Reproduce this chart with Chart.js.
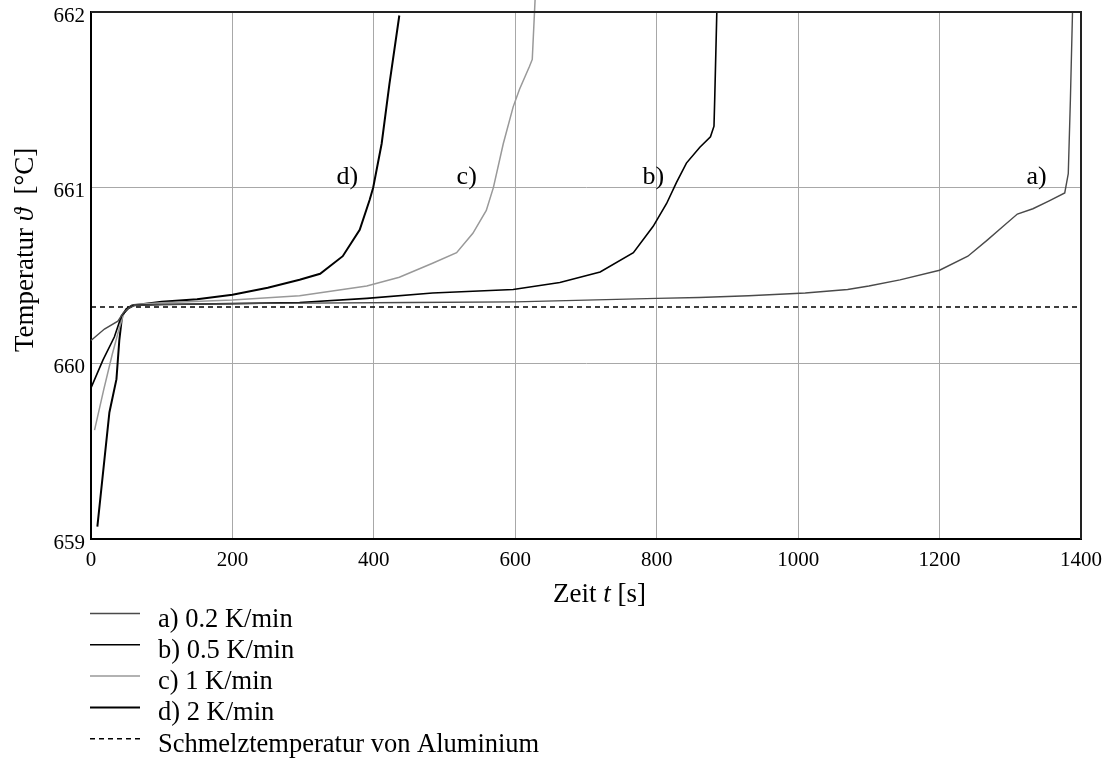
<!DOCTYPE html>
<html lang="de">
<head>
<meta charset="utf-8">
<title>Temperaturverlauf beim Schmelzen</title>
<script src="https://cdn.jsdelivr.net/npm/chart.js@4/dist/chart.umd.min.js"></script>
<style>
  body { margin: 0; background: #fff; }
</style>
</head>
<body>
<canvas id="tempChart" width="1119" height="760"></canvas>
<script>
// a) 0.2 K/min
var zeitA = [0, 19, 38, 46, 52, 62, 100, 200, 300, 450, 600, 700, 800, 860, 930, 1010, 1070, 1100, 1144, 1200, 1240, 1267, 1290, 1310, 1332, 1355, 1377, 1382, 1385, 1388];
var tempA = [660.13, 660.195, 660.24, 660.29, 660.31, 660.33, 660.335, 660.34, 660.343, 660.346, 660.35, 660.36, 660.37, 660.375, 660.385, 660.40, 660.42, 660.44, 660.475, 660.53, 660.61, 660.70, 660.78, 660.85, 660.88, 660.925, 660.97, 661.08, 661.5, 662.0];
// b) 0.5 K/min
var zeitB = [0, 17, 33, 43, 52, 60, 100, 200, 295, 390, 483, 597, 663, 720, 767, 795, 814, 828, 842, 861, 876, 881, 882, 885];
var tempB = [659.86, 660.02, 660.15, 660.27, 660.31, 660.33, 660.335, 660.34, 660.346, 660.37, 660.40, 660.42, 660.46, 660.52, 660.63, 660.78, 660.91, 661.03, 661.14, 661.23, 661.29, 661.35, 661.5, 662.0];
// c) 1 K/min
var zeitC = [5, 18, 30, 40, 47, 55, 62, 100, 200, 295, 390, 436, 483, 517, 540, 559, 569, 583, 597, 606, 620, 624, 628];
var tempC = [659.62, 659.85, 660.05, 660.2, 660.29, 660.32, 660.335, 660.345, 660.36, 660.385, 660.44, 660.49, 660.57, 660.63, 660.74, 660.87, 661.0, 661.25, 661.46, 661.56, 661.69, 661.73, 662.07];
// d) 2 K/min
var zeitD = [9, 26, 36, 40, 44, 50, 58, 100, 150, 200, 250, 295, 324, 356, 380, 394, 399, 411, 422, 436];
var tempD = [659.07, 659.72, 659.91, 660.13, 660.27, 660.31, 660.33, 660.35, 660.365, 660.39, 660.43, 660.476, 660.51, 660.61, 660.76, 660.93, 661.0, 661.25, 661.59, 661.98];

var schmelzTemp = 660.32;
var zeitBereich = [0, 1400];

var legendeTexte = ['a) 0.2 K/min', 'b) 0.5 K/min', 'c) 1 K/min', 'd) 2 K/min', 'Schmelztemperatur von Aluminium'];
var kurvenNamen = ['a)', 'b)', 'c)', 'd)'];
var kurvenZeit = [1323, 780, 517, 347];
var kurvenTemp = [661.02, 661.02, 661.02, 661.02];

var SERIF = '"Liberation Serif", "Times New Roman", serif';

function punkte(xs, ys) {
  return xs.map(function (x, i) { return { x: x, y: ys[i] }; });
}

function kurve(label, xs, ys, farbe, breite) {
  return {
    label: label,
    data: punkte(xs, ys),
    borderColor: farbe,
    borderWidth: breite,
    pointRadius: 0,
    tension: 0,
    fill: false,
    clip: false
  };
}

// Text mit kursiven Teilen nacheinander zeichnen
function mischText(ctx, teile, x, y, groesse) {
  var pos = x;
  teile.forEach(function (t) {
    ctx.font = (t.kursiv ? 'italic ' : '') + groesse + 'px ' + SERIF;
    ctx.fillText(t.text, pos, y);
    pos += ctx.measureText(t.text).width;
  });
}

var beschriftung = {
  id: 'beschriftung',
  afterDraw: function (chart) {
    var ctx = chart.ctx;
    var a = chart.chartArea;
    var sx = chart.scales.x, sy = chart.scales.y;
    ctx.save();

    // Rahmen oben und rechts
    ctx.strokeStyle = '#222';
    ctx.lineWidth = 2;
    ctx.beginPath();
    ctx.moveTo(a.left, a.top);
    ctx.lineTo(a.right, a.top);
    ctx.lineTo(a.right, a.bottom);
    ctx.stroke();

    ctx.fillStyle = '#000';
    ctx.textAlign = 'left';
    ctx.textBaseline = 'alphabetic';

    // Kurvenbezeichnungen
    ctx.font = '26px ' + SERIF;
    kurvenNamen.forEach(function (n, i) {
      ctx.fillText(n, sx.getPixelForValue(kurvenZeit[i]), sy.getPixelForValue(kurvenTemp[i]));
    });

    // Achsentitel
    mischText(ctx, [{ text: 'Zeit ' }, { text: 't', kursiv: true }, { text: ' [s]' }], 553, 602, 27);
    ctx.save();
    ctx.translate(33, 352);
    ctx.rotate(-Math.PI / 2);
    mischText(ctx, [{ text: 'Temperatur ' }, { text: 'ϑ', kursiv: true }, { text: '  [°C]' }], 0, 0, 27);
    ctx.restore();

    // Legende
    chart.data.datasets.forEach(function (ds, i) {
      var y = 613.5 + i * 31.3;
      ctx.beginPath();
      ctx.strokeStyle = ds.borderColor;
      ctx.lineWidth = ds.borderWidth;
      ctx.setLineDash(ds.borderDash || []);
      ctx.moveTo(90, y);
      ctx.lineTo(140, y);
      ctx.stroke();
      ctx.setLineDash([]);
      ctx.font = '26.5px ' + SERIF;
      ctx.fillText(ds.label, 158, y + 13);
    });

    ctx.restore();
  }
};

var schmelzLinie = {
  label: legendeTexte[4],
  data: punkte(zeitBereich, [schmelzTemp, schmelzTemp]),
  borderColor: '#000',
  borderWidth: 1.5,
  borderDash: [5, 4],
  pointRadius: 0,
  fill: false
};

new Chart(document.getElementById('tempChart'), {
  type: 'line',
  data: {
    datasets: [
      kurve(legendeTexte[0], zeitA, tempA, '#4a4a4a', 1.4),
      kurve(legendeTexte[1], zeitB, tempB, '#000', 1.6),
      kurve(legendeTexte[2], zeitC, tempC, '#999', 1.5),
      kurve(legendeTexte[3], zeitD, tempD, '#000', 2),
      schmelzLinie
    ]
  },
  options: {
    responsive: false,
    devicePixelRatio: 1,
    animation: false,
    layout: { padding: { top: 12, right: 38, bottom: 0, left: 0 } },
    plugins: {
      legend: { display: false },
      tooltip: { enabled: false }
    },
    scales: {
      x: {
        type: 'linear',
        min: 0,
        max: 1400,
        afterFit: function (s) { s.height = 221; },
        grid: { color: '#a8a8a8', lineWidth: 1, drawTicks: false },
        border: { color: '#000', width: 2 },
        ticks: {
          stepSize: 200,
          padding: 9,
          color: '#000',
          font: { family: SERIF, size: 21 },
          maxRotation: 0,
          callback: function (v) { return String(v); }
        }
      },
      y: {
        min: 659,
        max: 662,
        afterFit: function (s) {
          s.width = 91;
          s.paddingTop = 0;
          s.paddingBottom = 0;
        },
        grid: { color: '#a8a8a8', lineWidth: 1, drawTicks: false },
        border: { color: '#000', width: 2 },
        ticks: {
          stepSize: 1,
          padding: 6,
          labelOffset: 4,
          color: '#000',
          font: { family: SERIF, size: 21 },
          callback: function (v) { return String(v); }
        }
      }
    }
  },
  plugins: [beschriftung]
});
</script>
</body>
</html>
